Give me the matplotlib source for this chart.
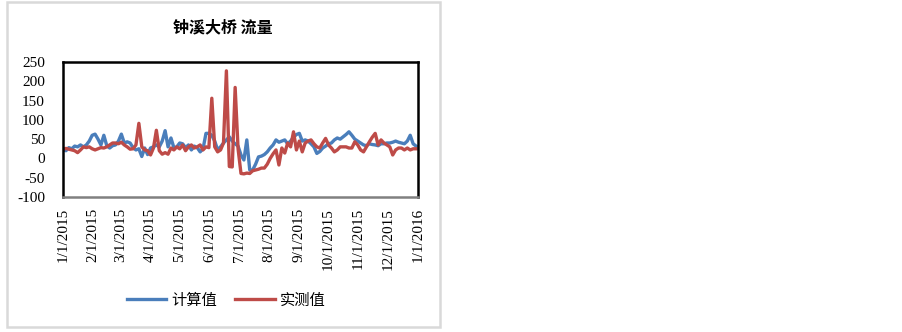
import matplotlib
matplotlib.use("Agg")
import matplotlib.pyplot as plt
import pandas as pd
from matplotlib.patches import Rectangle

title = "钟溪大桥 流量"
series_names = ["计算值", "实测值"]
start_date = "2015-01-01"
step_days = 3

calc = [22, 20, 28, 25, 32, 30, 35, 30, 35, 45, 60, 63, 50, 35, 60, 33, 27, 33, 35, 45,
        63, 40, 43, 40, 28, 22, 25, 5, 27, 10, 27, 30, 35, 30, 45, 72, 30, 53, 28, 30,
        40, 38, 28, 35, 22, 32, 28, 17, 25, 65, 65, 60, 45, 22, 30, 40, 48, 56, 45, 38,
        32, 9, -4, 48, -30, -30, -15, 4, 6, 10, 17, 27, 35, 48, 42, 45, 48, 38, 45, 55,
        62, 65, 45, 48, 45, 38, 30, 13, 18, 27, 32, 38, 40, 48, 53, 50, 56, 62, 69, 60,
        50, 45, 40, 35, 33, 38, 36, 35, 33, 38, 38, 40, 40, 42, 45, 42, 40, 38, 45, 60,
        38, 32]

measured = [24, 26, 24, 22, 20, 15, 22, 30, 28, 30, 25, 22, 25, 28, 27, 30, 35, 40, 40, 38,
            42, 35, 30, 24, 25, 35, 91, 30, 22, 20, 9, 27, 73, 20, 11, 15, 11, 27, 22, 30,
            25, 35, 20, 30, 35, 27, 30, 35, 22, 30, 28, 156, 30, 17, 22, 40, 227, -21, -22, 184,
            25, -39, -40, -38, -39, -32, -30, -28, -25, -25, -15, 0, 12, 22, -17, 27, 14, 40, 30, 69,
            22, 45, 17, 40, 45, 48, 38, 30, 27, 40, 52, 35, 27, 17, 22, 30, 30, 30, 27, 27,
            43, 35, 22, 17, 30, 43, 55, 65, 35, 48, 40, 35, 30, 9, 22, 27, 27, 22, 27, 22,
            25, 25]

y_ticks = [-100, -50, 0, 50, 100, 150, 200, 250]
x_tick_labels = ["1/1/2015", "2/1/2015", "3/1/2015", "4/1/2015", "5/1/2015", "6/1/2015",
                 "7/1/2015", "8/1/2015", "9/1/2015", "10/1/2015", "11/1/2015", "12/1/2015",
                 "1/1/2016"]

dates = pd.date_range(start_date, periods=len(calc), freq=f"{step_days}D")
tick_dates = pd.to_datetime(x_tick_labels, format="%m/%d/%Y")

W, H = 903, 332
fig = plt.figure(figsize=(W / 100, H / 100), dpi=100)

# outer chart border
fig.patches.append(Rectangle((7 / W, 1 - 327 / H), (440 - 7) / W, (327 - 2) / H,
                             transform=fig.transFigure, fill=False,
                             edgecolor="#D9D9D9", linewidth=1.8))

ax = fig.add_axes([63 / W, 1 - 197 / H, (418 - 63) / W, (197 - 62) / H])
ax.plot(dates, calc, color="#4A7EBB", lw=2.4, label=series_names[0], solid_joinstyle="round")
ax.plot(dates, measured, color="#BE4B48", lw=2.4, label=series_names[1], solid_joinstyle="round")

ax.set_xlim(tick_dates[0], tick_dates[-1])
ax.set_ylim(-100, 250)
ax.set_yticks(y_ticks)
ax.set_yticklabels([str(v) for v in y_ticks], fontfamily="Liberation Serif", fontsize=11)
ax.set_xticks(tick_dates)
ax.set_xticklabels(x_tick_labels, rotation=90, fontfamily="Liberation Serif", fontsize=11,
                   va="top", ha="center")
ax.tick_params(axis="both", length=0)
ax.tick_params(axis="y", pad=13)
ax.tick_params(axis="x", pad=8)

for side in ["left", "top", "right"]:
    ax.spines[side].set_color("black")
    ax.spines[side].set_linewidth(1.8)
ax.spines["bottom"].set_color("#808080")
ax.spines["bottom"].set_linewidth(1.8)

fig.text(223 / W, 1 - 27 / H, title, ha="center", va="center", fontsize=11.5,
         fontweight="bold", family=["Noto Sans CJK SC", "DejaVu Sans"])

fig.legend(loc="center", bbox_to_anchor=(226 / W, 1 - 300 / H), ncol=2, frameon=False,
           prop={"family": ["Noto Sans CJK SC", "DejaVu Sans"], "size": 11},
           handlelength=2.6, handletextpad=0.3, columnspacing=1.2)

fig.savefig("out.png", dpi=100)
